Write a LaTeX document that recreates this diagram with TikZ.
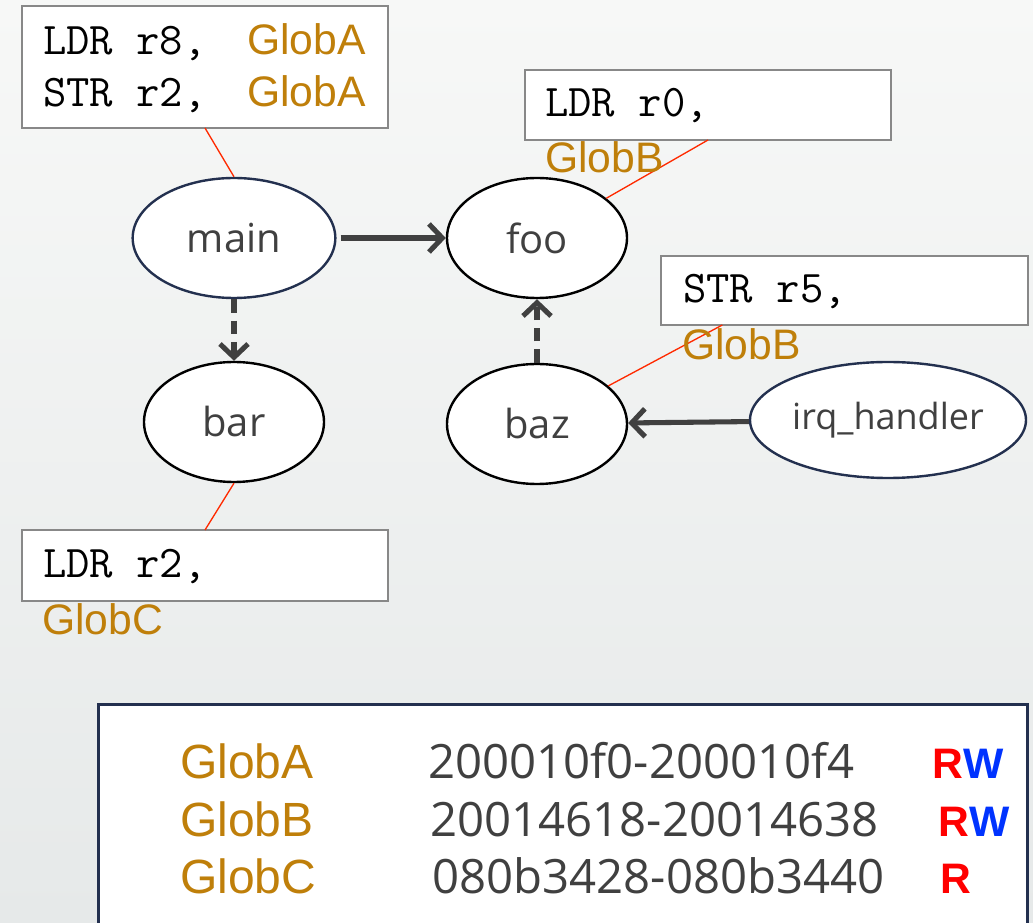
\documentclass[tikz,border=0pt]{standalone}
\usepackage{fontspec}
\setmainfont{Open Sans}
\newfontfamily\globfont{Liberation Sans}
\newfontfamily\codefont{Latin Modern Mono}
\usetikzlibrary{shapes.geometric,arrows.meta,calc}
\definecolor{gold}{HTML}{BF7F0A}
\definecolor{txtgray}{HTML}{404040}
\definecolor{navy}{HTML}{23304F}
\definecolor{redline}{HTML}{FF2A00}
\definecolor{rwred}{HTML}{FF0000}
\definecolor{rwblue}{HTML}{0033FF}
\definecolor{boxgray}{HTML}{888888}
\definecolor{bgtop}{HTML}{F7F8F7}
\definecolor{bgbot}{HTML}{E6E9E9}
\begin{document}
\begin{tikzpicture}[x=0.75pt,y=-0.75pt,
  fn/.style={ellipse, draw=black, line width=1.8pt, fill=white, inner sep=0pt,
    text=txtgray, font=\fontsize{30}{36}\selectfont},
  codebox/.style={draw=boxgray, line width=1pt, fill=white, inner sep=0pt, outer sep=0pt},
  code/.style={anchor=base west, inner sep=0pt, font=\codefont\fontsize{34}{38}\selectfont},
  glob/.style={anchor=base west, inner sep=0pt, text=gold, font=\globfont\fontsize{32}{38}\selectfont},
  call/.style={draw=txtgray, line width=3.8pt, -{Straight Barb[length=10pt,width=21pt,line width=3.8pt]}},
  maybecall/.style={call, dash pattern=on 10pt off 6pt},
  link/.style={draw=redline, line width=1pt},
  legtext/.style={anchor=base west, inner sep=0pt, text=txtgray, font=\fontsize{35.5}{40}\selectfont},
  legglob/.style={anchor=base west, inner sep=0pt, text=gold, font=\globfont\fontsize{36}{40}\selectfont},
  perm/.style={anchor=base west, inner sep=0pt, font=\globfont\bfseries\fontsize{32}{38}\selectfont}
]
\useasboundingbox (0,0) rectangle (1033,923);
\fill[top color=bgtop, bottom color=bgbot] (0,0) rectangle (1033,923);

% function nodes
\node[fn, draw=navy, minimum width=152pt, minimum height=90pt] (main) at (234,238) {main};
\node[fn, minimum width=135pt, minimum height=90pt] (foo) at (537,238) {foo};
\node[fn, minimum width=135pt, minimum height=90pt] (bar) at (234,422) {bar};
\node[fn, minimum width=135pt, minimum height=90pt] (baz) at (537,424) {baz};
\node[fn, draw=navy, minimum width=207pt, minimum height=87pt, font=\fontsize{27}{32}\selectfont] (irq) at (888,420) {irq\_handler};

% code boxes
\node[codebox, minimum width=274.5pt, minimum height=91.5pt] (boxA) at (205,67) {};
\node[codebox, minimum width=274.5pt, minimum height=52.5pt] (boxB) at (708,105) {};
\node[codebox, minimum width=275.25pt, minimum height=51.75pt] (boxC) at (844.5,290.5) {};
\node[codebox, minimum width=274.5pt, minimum height=53.25pt] (boxD) at (205,565.5) {};

% red links
\draw[link] (boxA.south) -- (main.north);
\draw[link] (boxD.north) -- (bar.south);
\coordinate (cB) at (boxB.south);
\draw[link] (cB) -- (foo);
\coordinate (cC) at ($(boxC.south west)!0.167!(boxC.south east)$);
\draw[link] (cC) -- (baz);

% code texts
\node[code] (a1) at (43,55) {LDR r8,};
\node[glob] (a1g) at (247,55) {GlobA};
\node[code] (a2) at (43,107) {STR r2,};
\node[glob] (a2g) at (247,107) {GlobA};
\node[code] (b1) at (545,117) {LDR r0,};
\node[glob] (b1g) at (545,173) {GlobB};
\node[code] (c1) at (683,303) {STR r5,};
\node[glob] (c1g) at (682,360) {GlobB};
\node[code] (d1) at (43,578) {LDR r2,};
\node[glob] (d1g) at (42,635) {GlobC};

% calls
\draw[call, shorten <=3pt] (main) -- (foo);
\draw[maybecall] (main) -- (bar);
\draw[maybecall] (baz) -- (foo);
\draw[call] (irq) -- (baz);

% legend
\node[draw=navy, line width=2.2pt, fill=white, anchor=north west, inner sep=0pt,
  minimum width=696.75pt, minimum height=180pt] (legend) at (97,703) {};
\node[legglob] (lg1) at (180,778) {GlobA};
\node[legglob] (lg2) at (180,836) {GlobB};
\node[legglob] (lg3) at (180,893) {GlobC};
\node[legtext] (la1) at (428,778) {200010f0-200010f4};
\node[legtext] (la2) at (430,836) {20014618-20014638};
\node[legtext] (la3) at (432,893) {080b3428-080b3440};
\node[perm] (p1) at (932,778) {\textcolor{rwred}{R}\textcolor{rwblue}{W}};
\node[perm] (p2) at (938,836) {\textcolor{rwred}{R}\textcolor{rwblue}{W}};
\node[perm] (p3) at (940,893) {\textcolor{rwred}{R}};
\end{tikzpicture}
\end{document}
